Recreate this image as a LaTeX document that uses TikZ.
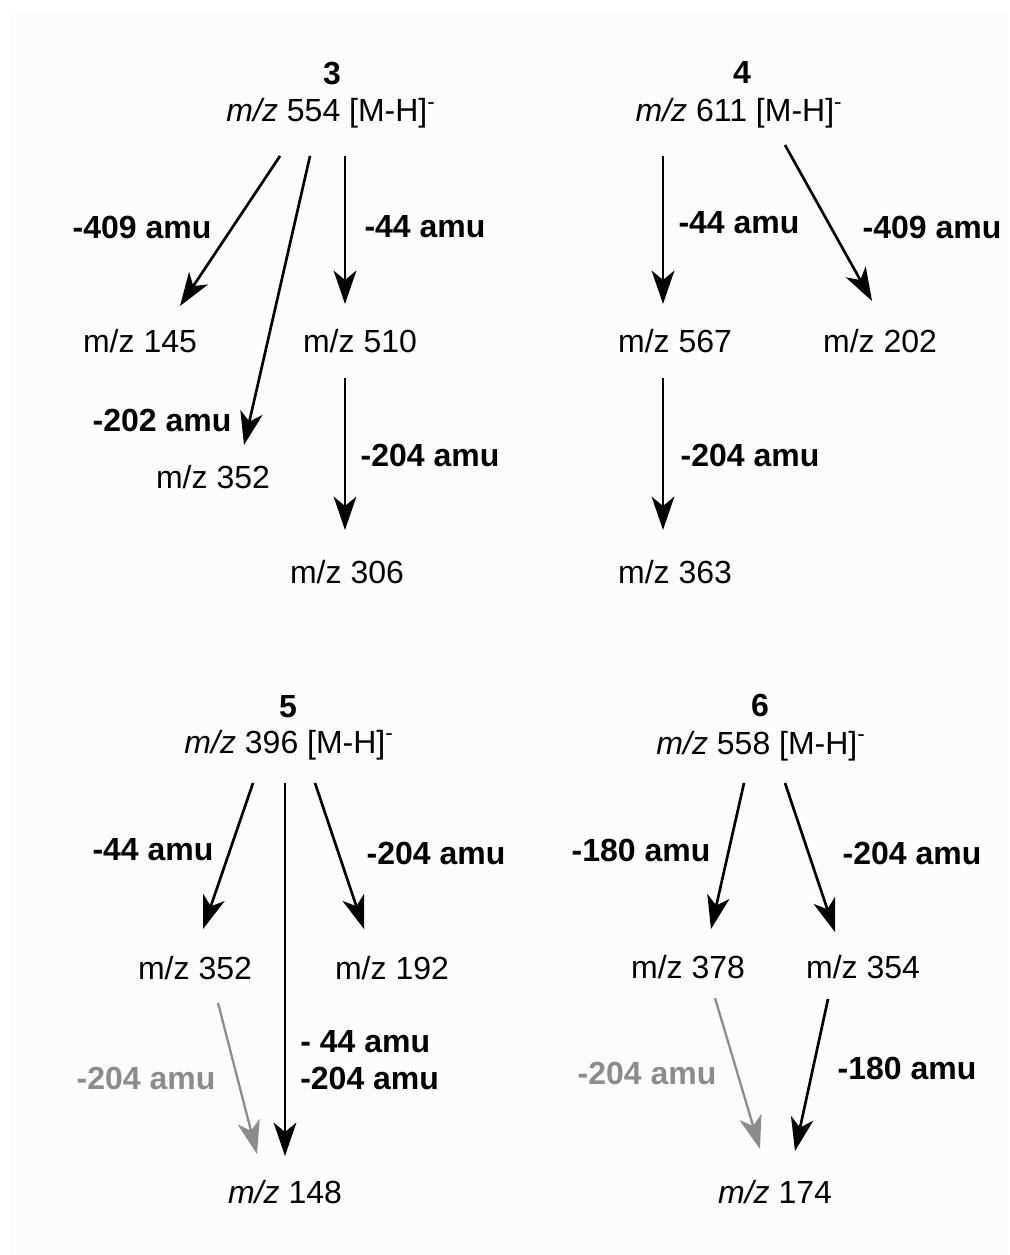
\documentclass[tikz,border=0pt]{standalone}
\usepackage{fontspec}
\setmainfont{Liberation Sans}
\usetikzlibrary{arrows.meta}
\definecolor{panel}{RGB}{252,252,252}
\definecolor{lgray}{RGB}{140,140,140}
\tikzset{
  txt/.style={inner sep=0pt, font=\fontsize{24}{28}\selectfont, text=black},
  lbl/.style={inner sep=0pt, font=\fontsize{24}{28}\selectfont\bfseries, text=black},
  glbl/.style={lbl, text=lgray},
  arr/.style={draw=black, line width=2pt, -{Stealth[length=25pt, width=17pt, inset=7pt]}},
  garr/.style={draw=lgray, line width=1.7pt, -{Stealth[length=25pt, width=17pt, inset=7pt]}},
}
\newcommand{\mz}{\textit{m/z}}
\newcommand{\mh}{[M-H]\textsuperscript{-}}
\begin{document}
\begin{tikzpicture}[x=0.75pt, y=-0.75pt]
\useasboundingbox (0,0) rectangle (1009,1255);
\fill[white] (0,0) rectangle (1009,1255);
\fill[panel] (10,13) rectangle (1009,1255);

% ---------- panel 3 ----------
\node[lbl, anchor=base] (t3) at (332,85) {3};
\node[txt, anchor=base] (p3) at (331,122) {\mz{} 554 \mh};
\node[txt] (a145) at (140,341) {m/z 145};
\node[txt] (a510) at (360,341) {m/z 510};
\node[txt] (a352) at (213,477) {m/z 352};
\node[txt] (a306) at (347,572) {m/z 306};
\node[lbl] (l409) at (142,227) {-409 amu};
\node[lbl] (l44) at (425,227) {-44 amu};
\node[lbl] (l202) at (162,420) {-202 amu};
\node[lbl] (l204) at (430,455) {-204 amu};
\coordinate (s3a) at (280,156); \coordinate (e3a) at (180,306);
\coordinate (s3b) at (310,156); \coordinate (e3b) at (244,445);
\coordinate (s3c) at (345,156); \coordinate (e3c) at (345,304);
\coordinate (s3d) at (345,378); \coordinate (e3d) at (345,530);
\draw[arr] (s3a) -- (e3a);
\draw[arr] (s3b) -- (e3b);
\draw[arr] (s3c) -- (e3c);
\draw[arr] (s3d) -- (e3d);

% ---------- panel 4 ----------
\node[lbl, anchor=base] (t4) at (742,84) {4};
\node[txt, anchor=base] (p4) at (739,122) {\mz{} 611 \mh};
\node[txt] (a567) at (675,341) {m/z 567};
\node[txt] (a202) at (880,341) {m/z 202};
\node[txt] (a363) at (675,572) {m/z 363};
\node[lbl] (l44b) at (739,223) {-44 amu};
\node[lbl] (l409b) at (932,227) {-409 amu};
\node[lbl] (l204b) at (750,455) {-204 amu};
\coordinate (s4a) at (663,156); \coordinate (e4a) at (663,304);
\coordinate (s4b) at (785,145); \coordinate (e4b) at (872,301);
\coordinate (s4c) at (663,378); \coordinate (e4c) at (663,530);
\draw[arr] (s4a) -- (e4a);
\draw[arr] (s4b) -- (e4b);
\draw[arr] (s4c) -- (e4c);

% ---------- panel 5 ----------
\node[lbl, anchor=base] (t5) at (288,717) {5};
\node[txt, anchor=base] (p5) at (289,753) {\mz{} 396 \mh};
\node[txt] (b352) at (195,968) {m/z 352};
\node[txt] (b192) at (392,968) {m/z 192};
\node[txt] (b148) at (285,1192) {\mz{} 148};
\node[lbl] (l44c) at (153,850) {-44 amu};
\node[lbl] (l204c) at (436,853) {-204 amu};
\node[glbl] (l204g) at (146,1078) {-204 amu};
\node[lbl, anchor=west] (l44d) at (300,1042) {- 44 amu};
\node[lbl, anchor=west] (l204d) at (300,1078) {-204 amu};
\coordinate (s5a) at (253,783); \coordinate (e5a) at (203,929);
\coordinate (s5b) at (285,783); \coordinate (e5b) at (285,1156);
\coordinate (s5c) at (315,783); \coordinate (e5c) at (364,929);
\coordinate (s5d) at (218,1003); \coordinate (e5d) at (257,1154);
\draw[arr] (s5a) -- (e5a);
\draw[arr] (s5b) -- (e5b);
\draw[arr] (s5c) -- (e5c);
\draw[garr] (s5d) -- (e5d);

% ---------- panel 6 ----------
\node[lbl, anchor=base] (t6) at (760,716) {6};
\node[txt, anchor=base] (p6) at (761,754) {\mz{} 558 \mh};
\node[txt] (c378) at (688,967) {m/z 378};
\node[txt] (c354) at (863,967) {m/z 354};
\node[txt] (c174) at (775,1192) {\mz{} 174};
\node[lbl] (l180) at (641,850) {-180 amu};
\node[lbl] (l204e) at (912,853) {-204 amu};
\node[glbl] (l204h) at (647,1073) {-204 amu};
\node[lbl] (l180b) at (907,1068) {-180 amu};
\coordinate (s6a) at (744,783); \coordinate (e6a) at (711,929);
\coordinate (s6b) at (785,783); \coordinate (e6b) at (835,932);
\coordinate (s6c) at (715,998); \coordinate (e6c) at (760,1149);
\coordinate (s6d) at (828,999); \coordinate (e6d) at (795,1151);
\draw[arr] (s6a) -- (e6a);
\draw[arr] (s6b) -- (e6b);
\draw[garr] (s6c) -- (e6c);
\draw[arr] (s6d) -- (e6d);
\end{tikzpicture}
\end{document}
